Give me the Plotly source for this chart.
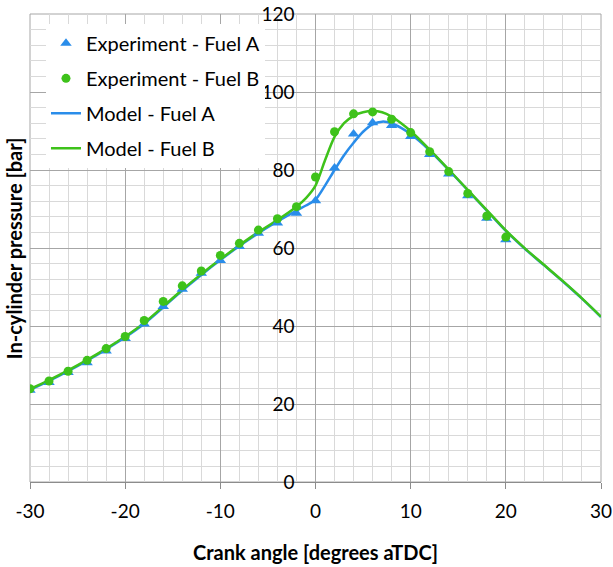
import plotly.graph_objects as go

# Experimental data (every 2 degrees)
exp_angle = [-30, -28, -26, -24, -22, -20, -18, -16, -14, -12, -10, -8, -6, -4, -2,
             0, 2, 4, 6, 8, 10, 12, 14, 16, 18, 20]
exp_fuel_a = [23.5, 25.5, 28.1, 30.6, 33.6, 36.8, 40.5, 45.0, 49.4, 53.5, 56.8, 60.4, 63.8, 66.4, 68.9,
              72.1, 80.5, 89.2, 92.1, 91.4, 88.6, 84.0, 79.0, 73.4, 67.6, 62.1]
exp_fuel_b = [23.9, 25.9, 28.4, 31.2, 34.2, 37.3, 41.4, 46.3, 50.3, 54.1, 58.1, 61.2, 64.6, 67.5, 70.6,
              78.2, 89.8, 94.4, 94.9, 93.0, 89.6, 84.7, 79.6, 74.0, 68.2, 62.8]

# Model curves
model_angle = [-30, -28, -26, -24, -22, -20, -18, -16, -14, -12, -10, -8, -6, -4, -2, -1,
               0, 1, 2, 3, 4, 5, 6, 7, 8, 9, 10, 12, 14, 16, 18, 20, 22, 24, 26, 28, 30]
model_fuel_a = [23.6, 25.9, 28.4, 31.1, 34.0, 37.1, 40.6, 44.8, 49.1, 53.1, 56.9, 60.5, 63.8, 66.8, 69.6, 70.9,
                72.4, 76.0, 80.0, 83.8, 87.0, 89.8, 91.7, 92.4, 92.0, 90.8, 89.2, 85.0, 80.0, 74.8, 69.6, 64.4,
                59.8, 55.6, 51.4, 47.0, 42.3]
model_fuel_b = [23.8, 26.1, 28.6, 31.3, 34.2, 37.3, 40.8, 45.0, 49.3, 53.3, 57.1, 60.7, 64.1, 67.2, 70.6, 72.8,
                76.0, 82.5, 88.5, 92.0, 93.9, 94.8, 95.1, 94.8, 93.7, 92.0, 90.0, 85.2, 80.1, 74.9, 69.7, 64.5,
                59.9, 55.7, 51.5, 47.1, 42.4]

x_ticks = [-30, -20, -10, 0, 10, 20, 30]
x_tick_labels = ["-30", "-20", "-10", "0", "10", "20", "30"]
y_ticks = [0, 20, 40, 60, 80, 100, 120]
y_tick_labels = ["0", "20", "40", "60", "80", "100", "120"]

BLUE = "#2A8DEA"
GREEN = "#3EC21A"
FONT = "Lato"

fig = go.Figure()
fig.add_trace(go.Scatter(x=model_angle, y=model_fuel_a, mode="lines", name="Model - Fuel A",
                         line=dict(color=BLUE, width=2.5, shape="spline", smoothing=0.8),
                         legendrank=3, legendgroup="c"))
fig.add_trace(go.Scatter(x=model_angle, y=model_fuel_b, mode="lines", name="Model - Fuel B",
                         line=dict(color=GREEN, width=2.5, shape="spline", smoothing=0.8),
                         legendrank=4, legendgroup="d"))
fig.add_trace(go.Scatter(x=exp_angle, y=exp_fuel_a, mode="markers", name="Experiment - Fuel A",
                         marker=dict(symbol="triangle-up", size=10, color=BLUE),
                         legendrank=1, legendgroup="a"))
fig.add_trace(go.Scatter(x=exp_angle, y=exp_fuel_b, mode="markers", name="Experiment - Fuel B",
                         marker=dict(symbol="circle", size=9, color=GREEN),
                         legendrank=2, legendgroup="b"))

fig.update_layout(
    width=613, height=567,
    margin=dict(l=30, r=12, t=14, b=85, autoexpand=False),
    paper_bgcolor="white", plot_bgcolor="white",
    font=dict(family=FONT, size=19, color="black"),
    showlegend=True,
    legend=dict(x=0.028, y=0.979, xanchor="left", yanchor="top",
                bgcolor="white", borderwidth=0, font=dict(size=20, family=FONT),
                traceorder="grouped", tracegroupgap=6, itemwidth=30),
    xaxis=dict(range=[-30, 30], tickmode="array", tickvals=x_ticks, ticktext=x_tick_labels,
               showgrid=True, gridcolor="#a6a6a6", gridwidth=1,
               minor=dict(dtick=2, tick0=-30, showgrid=True, gridcolor="#d9d9d9", gridwidth=1,
                          ticks=""),
               showline=True, linecolor="#8c8c8c", linewidth=1,
               ticks="outside", ticklen=6, tickcolor="#8c8c8c",
               ticklabelstandoff=6, automargin=False, ticklabeloverflow="allow",
               zeroline=False,
               title=dict(text="<b>Crank angle [degrees aTDC]</b>", standoff=25,
                          font=dict(size=20, family=FONT))),
    yaxis=dict(range=[0, 120], tickmode="array", tickvals=y_ticks, ticktext=y_tick_labels,
               showgrid=True, gridcolor="#a6a6a6", gridwidth=1,
               minor=dict(dtick=4, tick0=0, showgrid=True, gridcolor="#d9d9d9", gridwidth=1),
               anchor="free", position=0.5, side="left",
               showline=False, ticks="", ticklabelstandoff=21, automargin=False,
               ticklabeloverflow="allow",
               zeroline=False),
    annotations=[dict(text="<b>In-cylinder pressure [bar]</b>", textangle=-90,
                      xref="paper", yref="paper", x=-0.0275, y=0.5,
                      xanchor="center", yanchor="middle", showarrow=False,
                      font=dict(size=20, family=FONT))],
)

fig.add_shape(type="rect", xref="paper", yref="paper", x0=0, y0=0, x1=1, y1=1,
              line=dict(color="#a6a6a6", width=1), layer="below")

# Remove the default page margin so the figure fills the window exactly.
fig.write_html("out.html",
               config={"displayModeBar": False},
               post_script="document.body.style.margin='0';document.body.style.overflow='hidden';")
